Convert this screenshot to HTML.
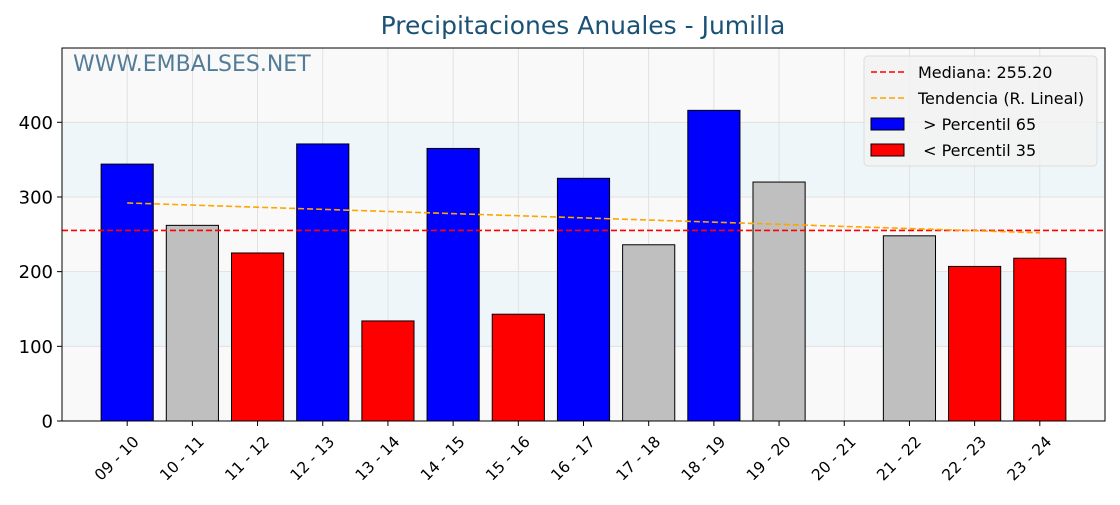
<!DOCTYPE html>
<html><head><meta charset="utf-8"><style>
body{margin:0;background:#fff;width:1120px;height:500px;overflow:hidden;font-family:"Liberation Sans","DejaVu Sans",sans-serif}
</style></head><body>
<svg id="chart" width="1120" height="500" xmlns="http://www.w3.org/2000/svg" font-family="DejaVu Sans, Liberation Sans, sans-serif">
<text x="583" y="34" text-anchor="middle" font-size="25" fill="#1a5276">Precipitaciones Anuales - Jumilla</text>
<g id="plot"></g>
</svg>
<script>
const categories=["09 - 10","10 - 11","11 - 12","12 - 13","13 - 14","14 - 15","15 - 16","16 - 17","17 - 18","18 - 19","19 - 20","20 - 21","21 - 22","22 - 23","23 - 24"];
const values=[344,262,225,371,134,365,143,325,236,416,320,0,248,207,218];
const colors=["blue","#bfbfbf","red","blue","red","blue","red","blue","#bfbfbf","blue","#bfbfbf","#bfbfbf","#bfbfbf","red","red"];
const yTicks=[0,100,200,300,400];
const median=255.2;
const trendStart=292, trendEnd=252;
const L=62,R=1105,T=48,B=421,yMax=499.5;
const xs=i=>L+(i+1)*(R-L)/16;
const ys=v=>B-v*(B-T)/yMax;
const g=document.getElementById('plot');
const NS="http://www.w3.org/2000/svg";
function mk(t,a){const e=document.createElementNS(NS,t);for(const k in a)e.setAttribute(k,a[k]);g.appendChild(e);return e;}
let e=mk('rect',{x:L,y:T,width:R-L,height:B-T,fill:'#f9f9f9'});


[[100,200],[300,400]].forEach(b=>{const r=mk('rect',{x:L,y:ys(b[1]),width:R-L,height:ys(b[0])-ys(b[1]),fill:'#eef6f9'});

});
yTicks.forEach(v=>{const l=mk('line',{x1:L,x2:R,y1:ys(v),y2:ys(v),stroke:'#ddd','stroke-width':0.8});


mk('line',{x1:L-5,x2:L,y1:ys(v),y2:ys(v),stroke:'#000'});
const t=mk('text',{x:L-9,y:ys(v)+6.5,'text-anchor':'end','font-size':18,fill:'#000'});t.textContent=v;

});
categories.forEach((c,i)=>{const gl=mk('line',{x1:xs(i),x2:xs(i),y1:T,y2:B,stroke:'#ddd','stroke-width':0.8});

});
const bw=(R-L)/16*0.8;
values.forEach((v,i)=>{if(v<=0)return;const r=mk('rect',{x:xs(i)-bw/2,y:ys(v),width:bw,height:B-ys(v),fill:colors[i],stroke:'#000','stroke-width':1});

});
categories.forEach((c,i)=>{mk('line',{x1:xs(i),x2:xs(i),y1:B,y2:B+5,stroke:'#000'});
const x=xs(i)+5,y=B+14;const t=mk('text',{x:x,y:y,'text-anchor':'end','font-size':15.5,transform:`rotate(-45 ${x} ${y})`,dy:'0.7em'});t.textContent=c;

});
let m=mk('line',{x1:L,x2:R,y1:ys(median),y2:ys(median),stroke:'red','stroke-width':1.6,'stroke-dasharray':'6,3'});


let tr=mk('line',{x1:xs(0),x2:xs(14),y1:ys(trendStart),y2:ys(trendEnd),stroke:'orange','stroke-width':1.6,'stroke-dasharray':'6,3'});


let fr=mk('rect',{x:L,y:T,width:R-L,height:B-T,fill:'none',stroke:'#000','stroke-width':1});


let wm=mk('text',{x:73,y:71,'font-size':22,fill:'#1a5276','fill-opacity':0.75});wm.textContent='WWW.EMBALSES.NET';


let lb=mk('rect',{x:864,y:56,width:233,height:110,rx:4,fill:'#f2f2f2','fill-opacity':0.85,stroke:'#ddd'});


const leg=[['line','red','Mediana: 255.20'],['line','orange','Tendencia (R. Lineal)'],['rect','blue','\u00a0> Percentil 65'],['rect','red','\u00a0< Percentil 35']];
leg.forEach((d,k)=>{const y=72+k*26;
if(d[0]=='line')mk('line',{x1:871,x2:905,y1:y,y2:y,stroke:d[1],'stroke-width':1.6,'stroke-dasharray':'6,3'});
else mk('rect',{x:871,y:y-6,width:33,height:12,fill:d[1],stroke:'#000'});
const t=mk('text',{x:918,y:y+6,'font-size':16});t.textContent=d[2];

});
</script>
</body></html>
